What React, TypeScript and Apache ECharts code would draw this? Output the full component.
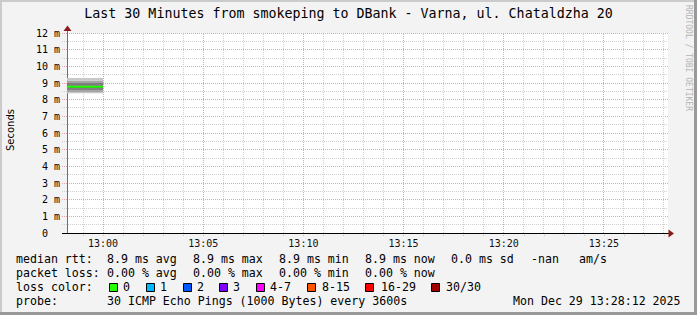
import React, { useEffect, useRef } from "react";
import * as echarts from "echarts";

// ---------- data ----------
const chartTitle = "Last 30 Minutes from smokeping to DBank - Varna, ul. Chataldzha 20";
const rangeStart = "12:58:12";
const rangeEnd = "13:28:12";
const sampleTimes = ["12:58:12", "13:00:00"];
const medianRtt = [8.78, 8.78]; // ms
// sorted ping edges (ms) forming the smoke bands, lowest to highest
const smokeEdges = [8.38, 8.46, 8.58, 8.7, 8.86, 9.0, 9.14, 9.3];
const smokeShades = ["#c6c6c6", "#a6a6a6", "#828282", "#5c5c5c", "#7e7e7e", "#a4a4a4", "#c8c8c8"];
const xLabelTimes = ["13:00", "13:05", "13:10", "13:15", "13:20", "13:25"];
const yMax = 12;

const rttRowLabel = "median rtt:";
const rttRow = ["8.9 ms avg", "8.9 ms max", "8.9 ms min", "8.9 ms now", "0.0 ms sd", "-nan", "am/s"];
const lossRowLabel = "packet loss:";
const lossRow = ["0.00 % avg", "0.00 % max", "0.00 % min", "0.00 % now"];
const lossColorLabel = "loss color:";
const lossLabels = ["0", "1", "2", "3", "4-7", "8-15", "16-29", "30/30"];
const lossColors = ["#26ff00", "#00b8ff", "#0059ff", "#7e00ff", "#ff00ff", "#ff5500", "#ff0000", "#a00000"];
const probeLabel = "probe:";
const probeText = "30 ICMP Echo Pings (1000 Bytes) every 3600s";
const stampText = "Mon Dec 29 13:28:12 2025";
const yTitle = "Seconds";
const watermark = "RRDTOOL / TOBI OETIKER";

// ---------- layout ----------
const W = 697;
const H = 315;
const MONO = '"DejaVu Sans Mono", monospace';
const MAJOR = "#eaa2a2";
const MINOR = "#d0d0d0";
const rowCols = [107, 193, 279, 365, 451, 531, 579];
const rowY = [259, 273, 287, 301];
const boxX = [109, 146, 183, 219, 256, 307, 365, 431];
const boxLabelX = [123, 160, 197, 233, 270, 322, 381, 446];

const toSec = (s: string) => {
  const p = s.split(":").map(Number);
  return p[0] * 3600 + p[1] * 60 + (p[2] || 0);
};
const fmt = (v: number) => {
  const h = Math.floor(v / 3600);
  const m = Math.floor((v % 3600) / 60);
  return `${h}:${m < 10 ? "0" : ""}${m}`;
};
const crisp = (v: number) => Math.round(v - 0.5) + 0.5;

export default function App() {
  const ref = useRef<HTMLDivElement>(null);
  useEffect(() => {
    document.body.style.margin = "0";
    const chart = echarts.init(ref.current!, null, { renderer: "svg" });
    const xMin = toSec(rangeStart);
    const xMax = toSec(rangeEnd);
    const ts = sampleTimes.map(toSec);
    const labelVals = xLabelTimes.map(toSec);
    const minuteVals: number[] = [];
    for (let t = Math.ceil(xMin / 60) * 60; t <= xMax; t += 60) minuteVals.push(t);
    const minorXVals = minuteVals.filter((t) => !labelVals.includes(t));
    const minorYVals: number[] = [];
    for (let v = 0.5; v < yMax; v += 1) minorYVals.push(v);

    const legendText = (text: string, x: number, y: number) => ({
      type: "text",
      x,
      y,
      silent: true,
      style: {
        text,
        font: `11.6px ${MONO}`,
        fill: "#000",
        align: "left",
        verticalAlign: "middle",
        textAlign: "left",
        textVerticalAlign: "middle",
      },
    });

    const graphics: any[] = [
      { type: "rect", shape: { x: 0, y: 0, width: W, height: 2 }, style: { fill: "#cbcbcb" }, silent: true },
      { type: "rect", shape: { x: 0, y: 0, width: 2, height: H }, style: { fill: "#cbcbcb" }, silent: true },
      { type: "rect", shape: { x: W - 3, y: 0, width: 3, height: H }, style: { fill: "#999999" }, silent: true },
      { type: "rect", shape: { x: 0, y: H - 3, width: W, height: 3 }, style: { fill: "#999999" }, silent: true },
      {
        type: "text",
        x: 348.5,
        y: 13,
        silent: true,
        style: {
          text: chartTitle,
          font: `13.3px ${MONO}`,
          fill: "#000",
          align: "center",
          verticalAlign: "middle",
          textAlign: "center",
          textVerticalAlign: "middle",
        },
      },
      {
        type: "text",
        x: 10,
        y: 130,
        rotation: Math.PI / 2,
        silent: true,
        style: {
          text: yTitle,
          font: `10px "DejaVu Sans", sans-serif`,
          fill: "#000",
          align: "center",
          verticalAlign: "middle",
          textAlign: "center",
          textVerticalAlign: "middle",
        },
      },
      {
        type: "text",
        x: 688.5,
        y: 5,
        rotation: -Math.PI / 2,
        silent: true,
        style: {
          text: watermark,
          font: `8px ${MONO}`,
          fill: "#b4b4b4",
          align: "left",
          verticalAlign: "middle",
          textAlign: "left",
          textVerticalAlign: "middle",
        },
      },
      { type: "line", shape: { x1: 67.5, y1: 33, x2: 67.5, y2: 30 }, style: { stroke: "#6e6e6e", lineWidth: 1 }, silent: true, z: 10 },
      { type: "polygon", shape: { points: [[67.5, 25.5], [63.5, 31], [71.5, 31]] }, style: { fill: "#8b1a1a" }, silent: true, z: 10 },
      { type: "line", shape: { x1: 62, y1: 233.5, x2: 669, y2: 233.5 }, style: { stroke: "#000", lineWidth: 1 }, silent: true, z: 10 },
      { type: "polygon", shape: { points: [[674, 233.5], [668.5, 229.5], [668.5, 237.5]] }, style: { fill: "#8b1a1a" }, silent: true, z: 10 },
      legendText(rttRowLabel, 16, rowY[0]),
      ...rttRow.map((t, i) => legendText(t, rowCols[i], rowY[0])),
      legendText(lossRowLabel, 16, rowY[1]),
      ...lossRow.map((t, i) => legendText(t, rowCols[i], rowY[1])),
      legendText(lossColorLabel, 16, rowY[2]),
      ...lossLabels.map((t, i) => legendText(t, boxLabelX[i], rowY[2])),
      ...lossColors.map((c, i) => ({
        type: "rect",
        silent: true,
        shape: { x: boxX[i] + 0.5, y: 283.5, width: 8, height: 8 },
        style: { fill: c, stroke: "#000", lineWidth: 1 },
      })),
      legendText(probeLabel, 16, rowY[3]),
      legendText(probeText, 107, rowY[3]),
      legendText(stampText, 513, rowY[3]),
    ];

    // vertical grid lines: [time, isMajor]
    const vGridData = [...minorXVals.map((v) => [v, 0]), ...labelVals.map((v) => [v, 1])];
    // smoke bands: [t0, t1, lo, hi, shadeIndex]
    const smokeData = smokeShades.map((_, i) => [ts[0], ts[1], smokeEdges[i], smokeEdges[i + 1], i]);

    const option: any = {
      animation: false,
      backgroundColor: "#f3f3f3",
      grid: {
        left: 67,
        right: W - 668,
        top: 33,
        bottom: H - 233,
        show: true,
        backgroundColor: "#ffffff",
        borderWidth: 0,
        containLabel: false,
      },
      xAxis: {
        type: "value",
        min: xMin,
        max: xMax,
        axisLine: { show: true, onZero: false, lineStyle: { color: "#000", width: 1 } },
        axisTick: {
          show: true,
          customValues: minuteVals,
          length: 4,
          lineStyle: { color: "#c0c0c0", type: [1, 1] },
        },
        axisLabel: {
          customValues: labelVals,
          formatter: (v: number) => fmt(v),
          margin: 5,
          fontFamily: MONO,
          fontSize: 10,
          color: "#111",
        },
        splitLine: { show: false },
      },
      yAxis: {
        type: "value",
        min: 0,
        max: yMax,
        interval: 1,
        axisLine: { show: true, lineStyle: { color: "#6e6e6e", width: 1 } },
        axisTick: { show: true, length: 5, lineStyle: { color: MAJOR, type: [1, 1] } },
        splitLine: { show: true, lineStyle: { color: MAJOR, type: [1, 1] } },
        axisLabel: {
          margin: 7,
          fontFamily: MONO,
          fontSize: 10,
          color: "#000",
          formatter: (v: number) => (v === 0 ? "0\u00a0\u00a0" : `${v} m`),
        },
      },
      graphic: graphics,
      series: [
        {
          type: "custom",
          z: 1,
          silent: true,
          clip: false,
          data: minorYVals.map((v) => [v]),
          encode: { y: 0 },
          renderItem: (params: any, api: any) => {
            const v = api.value(0);
            const a = api.coord([xMin, v]);
            const b = api.coord([xMax, v]);
            const y = crisp(a[1]);
            return {
              type: "line",
              shape: { x1: a[0] - 5, y1: y, x2: b[0], y2: y },
              style: { stroke: MINOR, lineWidth: 1, lineDash: [1, 1] },
            };
          },
        },
        {
          type: "custom",
          z: 1,
          silent: true,
          clip: false,
          data: vGridData,
          encode: { x: 0 },
          renderItem: (params: any, api: any) => {
            const v = api.value(0);
            const major = api.value(1) === 1;
            const a = api.coord([v, 0]);
            const b = api.coord([v, yMax]);
            const x = crisp(a[0]);
            return {
              type: "line",
              shape: { x1: x, y1: a[1], x2: x, y2: b[1] },
              style: { stroke: major ? MAJOR : MINOR, lineWidth: 1, lineDash: [1, 1] },
            };
          },
        },
        {
          type: "custom",
          z: 3,
          silent: true,
          data: smokeData,
          encode: { x: [0, 1], y: [2, 3] },
          renderItem: (params: any, api: any) => {
            const p0 = api.coord([api.value(0), api.value(3)]);
            const p1 = api.coord([api.value(1), api.value(2)]);
            return {
              type: "rect",
              shape: { x: p0[0], y: p0[1], width: p1[0] - p0[0], height: p1[1] - p0[1] },
              style: { fill: smokeShades[api.value(4)] },
            };
          },
        },
        {
          type: "line",
          data: ts.map((t, i) => [t, medianRtt[i]]),
          symbol: "none",
          lineStyle: { color: "#20ff00", width: 2 },
          z: 4,
          silent: true,
        },
      ],
    };
    chart.setOption(option);
    return () => chart.dispose();
  }, []);
  return <div ref={ref} style={{ position: "absolute", left: 0, top: 0, width: W, height: H }} />;
}
